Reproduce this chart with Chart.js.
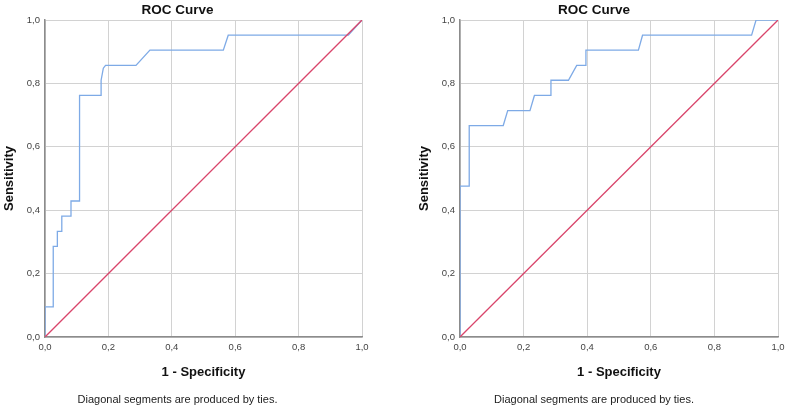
<!DOCTYPE html>
<html>
<head>
<meta charset="utf-8">
<script src="https://cdn.jsdelivr.net/npm/chart.js@4"></script>
<style>
  html, body { margin: 0; padding: 0; background: #ffffff; }
  body { width: 800px; height: 408px; position: relative; overflow: hidden; }
  .box { position: absolute; top: 0; height: 408px; }
  #leftBox { left: -7px; width: 389px; }
  #rightBox { left: 410px; width: 388px; }
</style>
</head>
<body>
<div class="box" id="leftBox"><canvas id="c1"></canvas></div>
<div class="box" id="rightBox"><canvas id="c2"></canvas></div>
<script>
// ---- data ----
const chartTitle = "ROC Curve";
const xAxisTitle = "1 - Specificity";
const yAxisTitle = "Sensitivity";
const footnote = "Diagonal segments are produced by ties.";
const tickLabels = ["0,0", "0,2", "0,4", "0,6", "0,8", "1,0"];

const leftFpr  = [0, 0,     0.026, 0.026, 0.039, 0.039, 0.053, 0.053, 0.082, 0.082, 0.109, 0.109, 0.177, 0.177, 0.184, 0.191, 0.287, 0.331, 0.5625, 0.578, 0.957, 1];
const leftSens = [0, 0.095, 0.095, 0.286, 0.286, 0.333, 0.333, 0.381, 0.381, 0.429, 0.429, 0.762, 0.762, 0.810, 0.848, 0.857, 0.857, 0.905, 0.905,  0.952, 0.952, 1];

const rightFpr  = [0, 0,     0.029, 0.029, 0.136, 0.150, 0.220, 0.234, 0.286, 0.286, 0.341, 0.367, 0.396, 0.396, 0.561, 0.574, 0.917, 0.931, 1];
const rightSens = [0, 0.476, 0.476, 0.667, 0.667, 0.714, 0.714, 0.762, 0.762, 0.810, 0.810, 0.857, 0.857, 0.905, 0.905, 0.952, 0.952, 1,     1];

const refX = [0, 1];
const refY = [0, 1];

// ---- helpers ----
const FONT = "'Liberation Sans', Arial, sans-serif";
function pts(xs, ys) { return xs.map((x, i) => ({ x: x, y: ys[i] })); }

function makeChart(id, fpr, sens, yAxisWidth, yTitlePad) {
  return new Chart(document.getElementById(id), {
    type: 'line',
    data: {
      datasets: [
        {
          data: pts(refX, refY),
          borderColor: '#d9456b',
          borderWidth: 1.3,
          pointRadius: 0,
          tension: 0
        },
        {
          data: pts(fpr, sens),
          borderColor: '#7eaae6',
          borderWidth: 1.3,
          pointRadius: 0,
          tension: 0
        }
      ]
    },
    options: {
      responsive: true,
      maintainAspectRatio: false,
      animation: false,
      events: [],
      layout: { padding: { left: 0, right: 20, top: 0, bottom: 0 } },
      plugins: {
        legend: { display: false },
        tooltip: { enabled: false },
        title: {
          display: true,
          text: chartTitle,
          color: '#111111',
          font: { family: FONT, size: 13.5, weight: 'bold', lineHeight: 1.2 },
          padding: { top: 1.9, bottom: 1.9 }
        },
        subtitle: {
          display: true,
          position: 'bottom',
          text: footnote,
          color: '#222222',
          font: { family: FONT, size: 11, weight: 'normal', lineHeight: 1.2 },
          padding: { top: 0, bottom: 1.4 }
        }
      },
      scales: {
        x: {
          type: 'linear',
          min: 0,
          max: 1,
          afterFit: s => { s.height = 56.4; },
          ticks: {
            stepSize: 0.2,
            padding: 5,
            color: '#444444',
            font: { family: FONT, size: 9.5 },
            maxRotation: 0,
            callback: (v, i) => tickLabels[i]
          },
          grid: { color: '#d2d2d2', lineWidth: 1, drawTicks: false },
          border: { color: '#8c8c8c', width: 1.5 },
          title: {
            display: true,
            text: xAxisTitle,
            color: '#111111',
            font: { family: FONT, size: 13, weight: 'bold', lineHeight: 1.2 },
            padding: { top: 0, bottom: 12.9 }
          }
        },
        y: {
          type: 'linear',
          min: 0,
          max: 1,
          afterFit: s => { s.width = yAxisWidth; },
          ticks: {
            stepSize: 0.2,
            padding: 5,
            color: '#444444',
            font: { family: FONT, size: 9.5 },
            callback: (v, i) => tickLabels[i]
          },
          grid: { color: '#d2d2d2', lineWidth: 1, drawTicks: false },
          border: { color: '#8c8c8c', width: 1.5 },
          title: {
            display: true,
            text: yAxisTitle,
            color: '#111111',
            font: { family: FONT, size: 13, weight: 'bold', lineHeight: 1.2 },
            padding: { top: yTitlePad, bottom: 0 }
          }
        }
      }
    }
  });
}

makeChart('c1', leftFpr, leftSens, 52, 8.2);
makeChart('c2', rightFpr, rightSens, 50, 6.2);
</script>
</body>
</html>
